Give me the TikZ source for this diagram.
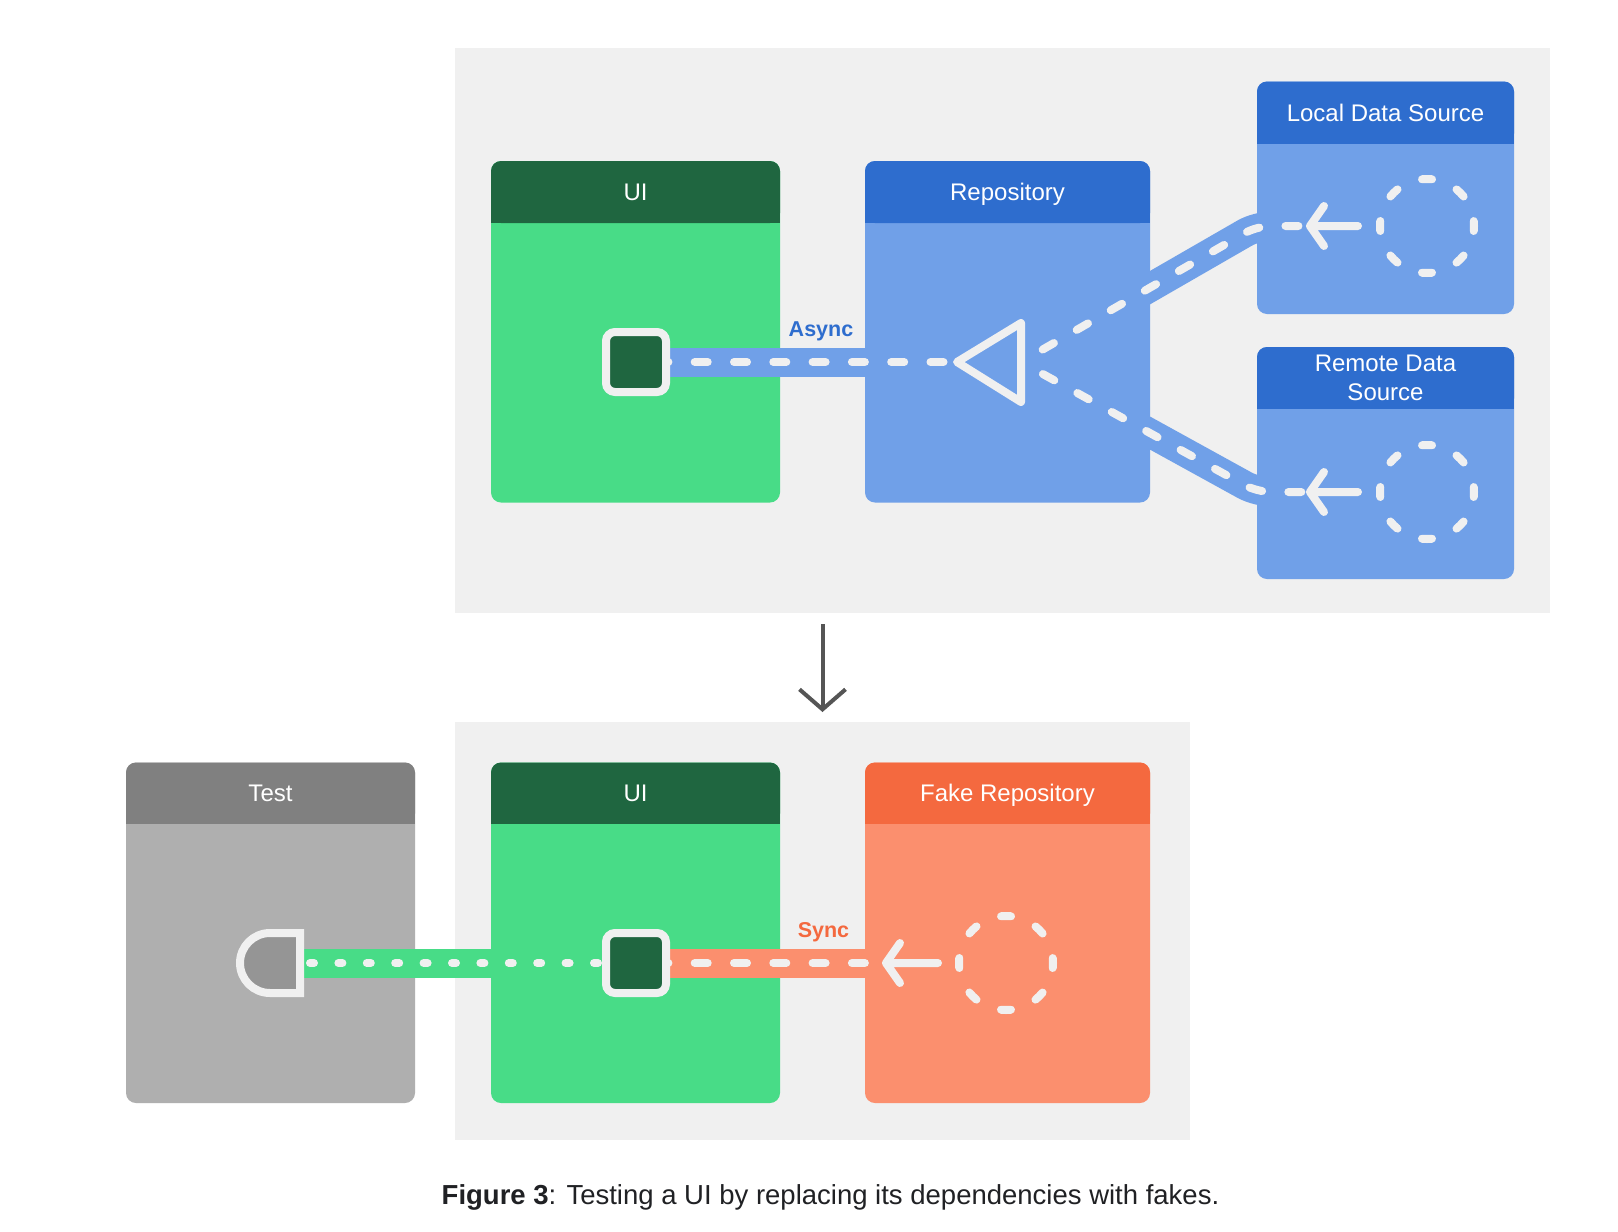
\documentclass[tikz,border=0pt]{standalone}
\usepackage{fontspec}
\setmainfont{Liberation Sans}
\usetikzlibrary{arrows.meta}
\definecolor{panelbg}{HTML}{F0F0F0}
\definecolor{uihead}{HTML}{1F6640}
\definecolor{uibody}{HTML}{48DC87}
\definecolor{repohead}{HTML}{2E6DCE}
\definecolor{repobody}{HTML}{70A0E8}
\definecolor{fakehead}{HTML}{F4693F}
\definecolor{fakebody}{HTML}{FB8F6E}
\definecolor{testhead}{HTML}{808080}
\definecolor{testbody}{HTML}{AFAFAF}
\definecolor{testknob}{HTML}{959595}
\definecolor{wht}{HTML}{F0F0F0}
\definecolor{arrowgray}{HTML}{555555}
\definecolor{captxt}{HTML}{202124}
\tikzset{
  hdrtext/.style={text=white, font=\fontsize{24}{29}\selectfont, inner sep=0pt, anchor=base},
  wline/.style={draw=wht, line width=8pt, line cap=round, line join=round},
  dashline/.style={wline, dash pattern=on 13pt off 26.3pt, dash phase=19.9pt},
  diagline/.style={wline, dash pattern=on 13pt off 26.3pt, dash phase=14.3pt, rounded corners=14pt},
  dotline/.style={wline, dash pattern=on 4pt off 24.4pt, dash phase=18.4pt},
  dcirc/.style={wline, line cap=round, dash pattern=on 10pt off 26.91pt, dash phase=5pt},
  sqnode/.style={draw=wht, fill=uihead, line width=8pt, minimum size=60pt, inner sep=0pt, rounded corners=9pt},
  band/.style={line width=29pt},
  lbl/.style={font=\bfseries\fontsize{21.5}{25}\selectfont, inner sep=0pt, anchor=base},
}
\newcommand{\compbox}[7]{%
  \fill[#7, rounded corners=10pt] (#1,#2) rectangle (#3,#4);
  \fill[#6, rounded corners=10pt] (#1,#2) rectangle (#3,#5);
  \fill[#6] (#1,#5-14) rectangle (#3,#5);
}
\begin{document}
\begin{tikzpicture}[x=1pt,y=-1pt]
\useasboundingbox (0,0) rectangle (1618,1232);
\fill[white] (0,0) rectangle (1618,1232);

% panels
\fill[panelbg] (455,47.5) rectangle (1550,613);
\fill[panelbg] (455,722) rectangle (1190,1140);

% top boxes
\compbox{491}{161}{780}{502.5}{223}{uihead}{uibody}
\compbox{865}{161}{1150}{502.5}{223}{repohead}{repobody}
\compbox{1257}{81.5}{1514}{314}{143.5}{repohead}{repobody}
\compbox{1257}{347}{1514}{579}{408.5}{repohead}{repobody}
% bottom boxes
\compbox{126}{762.5}{415}{1103}{823.5}{testhead}{testbody}
\compbox{491}{762.5}{780}{1103}{823.5}{uihead}{uibody}
\compbox{865}{762.5}{1150}{1103}{823.5}{fakehead}{fakebody}

% header texts
\node[hdrtext] (ui1t) at (635.5,200.5) {UI};
\node[hdrtext] (repot) at (1007.5,200.5) {Repository};
\node[hdrtext] (localt) at (1385.5,121) {Local Data Source};
\node[hdrtext, align=center, anchor=center] (remotet) at (1385.5,378) {Remote Data\\Source};
\node[hdrtext] (testt) at (270.5,801.5) {Test};
\node[hdrtext] (ui2t) at (635.5,801.5) {UI};
\node[hdrtext] (faket) at (1007.5,801.5) {Fake Repository};

% key coordinates
\coordinate (sq1) at (636,362);
\coordinate (tritip) at (957,362);
\coordinate (split) at (1021,362);
\coordinate (lcorner) at (1257,226);
\coordinate (ltip) at (1310,226);
\coordinate (lcirc) at (1427,226);
\coordinate (rcorner) at (1257,492);
\coordinate (rtip) at (1310,492);
\coordinate (rcirc) at (1427,492);
\coordinate (sq2) at (636,963);
\coordinate (ftip) at (886,963);
\coordinate (fcirc) at (1006,963);
\coordinate (knob) at (300,963);

% bands
\draw[band, draw=repobody] (sq1) -- (tritip);
\draw[band, draw=repobody, rounded corners=14pt] (split) -- (lcorner) -- (ltip);
\draw[band, draw=repobody, rounded corners=14pt] (split) -- (rcorner) -- (rtip);
\draw[band, draw=fakebody] (sq2) -- (ftip);
\draw[band, draw=uibody] (knob) -- (sq2);

% dashed connectors
\draw[dashline] (sq1) -- (tritip);
\draw[diagline] (split) -- (lcorner) -- (ltip);
\draw[diagline] (split) -- (rcorner) -- (rtip);
\draw[dashline] (sq2) -- (ftip);
\draw[dotline] (knob) -- (sq2);

% squares
\node[sqnode] (sq1n) at (sq1) {};
\node[sqnode] (sq2n) at (sq2) {};

% triangle
\draw[wline, fill=repobody] (tritip) -- (1021,323) -- (1021,402) -- cycle;

% test knob (D shape)
\draw[wline, line join=miter, fill=testknob] (300,933) -- (270,933) arc(270:90:30) -- (300,993) -- cycle;

% dashed circles
\draw[dcirc] (lcirc) circle[radius=47];
\draw[dcirc] (rcirc) circle[radius=47];
\draw[dcirc] (fcirc) circle[radius=47];

% white arrows
\draw[wline] ([xshift=-69pt]lcirc) -- (ltip) ++(14,-20) -- (ltip) -- ++(14,20);
\draw[wline] ([xshift=-69pt]rcirc) -- (rtip) ++(14,-20) -- (rtip) -- ++(14,20);
\draw[wline] ([xshift=-68pt]fcirc) -- (ftip) ++(14,-20) -- (ftip) -- ++(14,20);

% labels
\node[lbl, text=repohead] (async) at (821,336) {Async};
\node[lbl, text=fakehead] (sync) at (823.5,937) {Sync};

% down arrow
\coordinate (arrTop) at (822.5,624);
\coordinate (arrBot) at (822.5,712);
\draw[draw=arrowgray, line width=4pt, -{Straight Barb[length=20pt,width=46pt]}] (arrTop) -- (arrBot);

% caption
\node[anchor=base, inner sep=0pt, text=captxt, font=\fontsize{27.5}{32}\selectfont] (cap) at (830.5,1204) {\textbf{Figure 3}: Testing a UI by replacing its dependencies with fakes.};
\end{tikzpicture}
\end{document}
